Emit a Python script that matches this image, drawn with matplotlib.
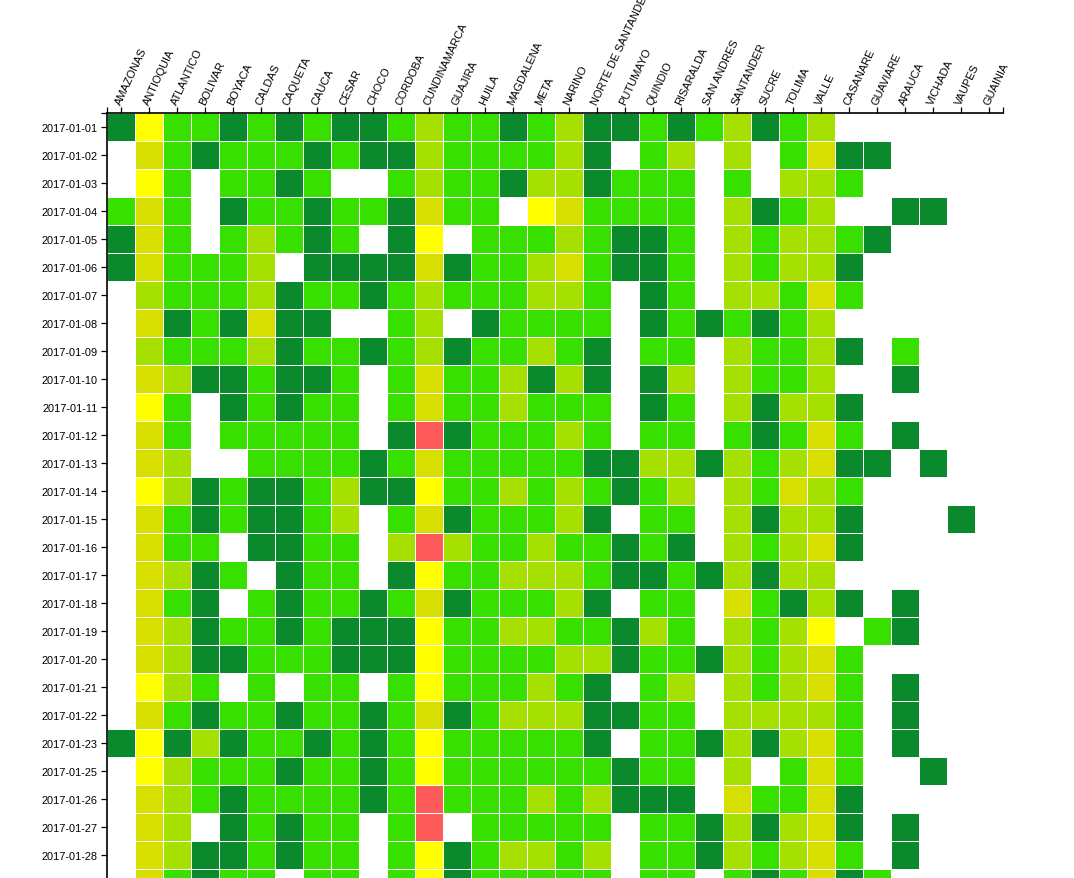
import numpy as np
import matplotlib
matplotlib.use("Agg")
import matplotlib.pyplot as plt
from matplotlib.colors import ListedColormap, BoundaryNorm

departments = ["AMAZONAS", "ANTIOQUIA", "ATLANTICO", "BOLIVAR", "BOYACA", "CALDAS",
               "CAQUETA", "CAUCA", "CESAR", "CHOCO", "CORDOBA", "CUNDINAMARCA",
               "GUAJIRA", "HUILA", "MAGDALENA", "META", "NARINO", "NORTE DE SANTANDER",
               "PUTUMAYO", "QUINDIO", "RISARALDA", "SAN ANDRES", "SANTANDER", "SUCRE",
               "TOLIMA", "VALLE", "CASANARE", "GUAVIARE", "ARAUCA", "VICHADA",
               "VAUPES", "GUAINIA"]

# visible date labels (the last, partially visible row has no visible label)
dates = ["2017-01-01", "2017-01-02", "2017-01-03", "2017-01-04", "2017-01-05",
         "2017-01-06", "2017-01-07", "2017-01-08", "2017-01-09", "2017-01-10",
         "2017-01-11", "2017-01-12", "2017-01-13", "2017-01-14", "2017-01-15",
         "2017-01-16", "2017-01-17", "2017-01-18", "2017-01-19", "2017-01-20",
         "2017-01-21", "2017-01-22", "2017-01-23", "2017-01-25", "2017-01-26",
         "2017-01-27", "2017-01-28"]

# level codes per cell: D=1 (dark green) G=2 L=3 O=4 Y=5 R=6, '.' = no data
level_of_code = {"D": 1, "G": 2, "L": 3, "O": 4, "Y": 5, "R": 6}
level_colors = ["#0a8a2c", "#38e000", "#a5e000", "#d6df00", "#ffff00", "#ff5a5a"]

rows = [
    "DYGGDGDGDDGLGGDG" + "LDDGDGLDGL" + "......",
    ".OGDGGGDGDDLGGGG" + "LD.GL.L.GO" + "DD....",
    ".YG.GGDG..GLGGDL" + "LDGGG.G.LL" + "G.....",
    "GOG.DGGDGGDOGG.Y" + "OGGGG.LDGL" + "..DD..",
    "DOG.GLGDG.DY.GGG" + "LGDDG.LGLL" + "GD....",
    "DOGGGL.DDDDODGGL" + "OGDDG.LGLL" + "D.....",
    ".LGGGLDGGDGLGGGL" + "LG.DG.LLGO" + "G.....",
    ".ODGDODD..GL.DGG" + "GG.DGDGDGL" + "......",
    ".LGGGLDGGDGLDGGL" + "GD.GG.LGGL" + "D.G...",
    ".OLDDGDDG.GOGGLD" + "LD.DL.LGGL" + "..D...",
    ".YG.DGDGG.GOGGLG" + "GG.DG.LDLL" + "D.....",
    ".OG.GGGGG.DRDGGG" + "LG.GG.GDGO" + "G.D...",
    ".OL..GGGGDGOGGGG" + "GDDLLDLGLO" + "DD.D..",
    ".YLDGDDGLDDYGGLG" + "LGDGL.LGOL" + "G.....",
    ".OGDGDDGL.GODGGG" + "LD.GG.LDLL" + "D...D.",
    ".OGG.DDGG.LRLGGL" + "GGDGD.LGLO" + "D.....",
    ".OLDG.DGG.DYGGLL" + "LGDDGDLDLL" + "......",
    ".OGD.GDGGDGODGGG" + "LD.GG.OGDL" + "D.D...",
    ".OLDGGDGDDDYGGLL" + "GGDLG.LGLY" + ".GD...",
    ".OLDDGGGDDDYGGGG" + "LLDGGDLGLO" + "G.....",
    ".YLG.G.GG.GYGGGL" + "GD.GL.LGLO" + "G.D...",
    ".OGDGGDGGDGODGLL" + "LDDGG.LLLL" + "G.D...",
    "DYDLDGGDGDGYGGGG" + "GD.GGDLDLO" + "G.D...",
    ".YLGGGDGGDGYGGGG" + "GGDGG.L.GO" + "G..D..",
    ".OLGDGGGGDGRGGGL" + "GLDDD.OGGO" + "D.....",
    ".OL.DGDGG.GR.GGG" + "GG.GGDLDLO" + "D.D...",
    ".OLDDGDGG.GYDGLL" + "GL.GGDLGLO" + "G.D...",
    ".OGDGG.GG.GYDGGG" + "GG.GG.GDGO" + "DG....",
]

plt.rcParams["font.family"] = ["Liberation Sans", "DejaVu Sans"]

n_rows, n_cols = len(rows), len(departments)
values = np.full((n_rows, n_cols), np.nan)
for i, r in enumerate(rows):
    for j, c in enumerate(r):
        if c in level_of_code:
            values[i, j] = level_of_code[c]
masked = np.ma.masked_invalid(values)

cmap = ListedColormap(level_colors)
norm = BoundaryNorm(np.arange(0.5, 7.5, 1), cmap.N)

W, H = 1074, 879
fig = plt.figure(figsize=(W / 100, H / 100), dpi=100)
top_px, left_px, cell = 114, 107, 28
ax = fig.add_axes([left_px / W, 0, n_cols * cell / W, (H - top_px) / H])

ax.pcolormesh(np.arange(n_cols + 1), np.arange(n_rows + 1), masked,
              cmap=cmap, norm=norm, edgecolors="white", linewidth=0.55)
ax.set_xlim(0, n_cols)
ax.set_ylim((H - top_px) / cell, 0)

ax.xaxis.tick_top()
ax.set_xticks(np.arange(n_cols) + 0.5)
ax.set_xticklabels(departments, rotation=65, ha="left", va="baseline",
                   rotation_mode="anchor", fontsize=7.9)
ax.set_xticks([0, n_cols], minor=True)
ax.set_yticks(np.arange(len(dates)) + 0.5)
ax.set_yticklabels(dates, fontsize=7.9)
ax.set_yticks([0], minor=True)

ax.tick_params(axis="both", which="both", length=4.3, width=0.9, color="black",
               direction="out")
ax.tick_params(axis="x", which="major", pad=1.5)
ax.tick_params(axis="y", which="major", pad=2.5)

for side in ["right", "bottom"]:
    ax.spines[side].set_visible(False)
for side in ["left", "top"]:
    ax.spines[side].set_linewidth(1.2)
    ax.spines[side].set_color("black")

fig.savefig("out.png", dpi=100)
